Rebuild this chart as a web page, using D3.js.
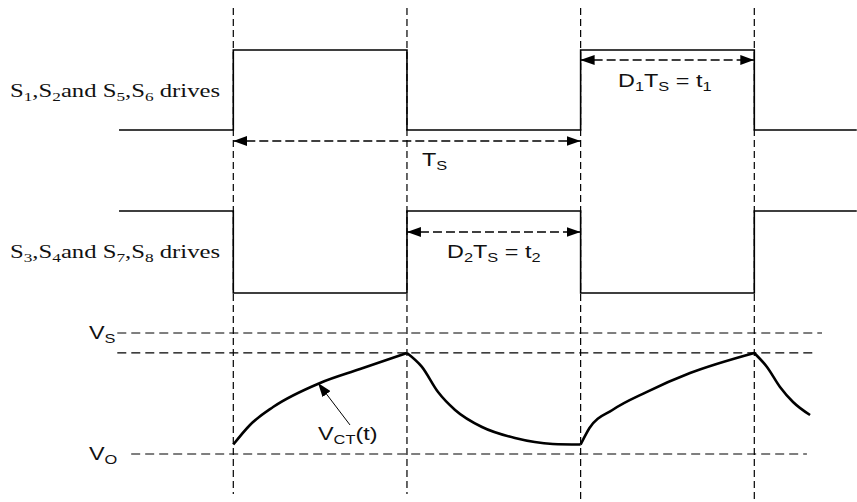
<!DOCTYPE html>
<html>
<head>
<meta charset="utf-8">
<script src="https://cdn.jsdelivr.net/npm/d3@7"></script>
<style>
  body { margin: 0; background: #fff; }
  svg { display: block; }
</style>
</head>
<body>
<div id="chart"></div>
<script>
// Time is in switching periods: edges at t = 0, 1, 2, 3.
var edgeTimes = [0, 1, 2, 3];
var driveTimes = [-0.658, 0, 1, 2, 3, 3.59];
var drive1Levels = [0, 1, 0, 1, 0, 0];   // S1,S2 and S5,S6
var drive2Levels = [1, 0, 1, 0, 1, 1];   // S3,S4 and S7,S8

// Capacitor voltage V_CT(t), normalised: 0 = V_O, 1 = V_S.
var rise1T = [0, 0.096, 0.229, 0.5, 0.73, 1.0];
var rise1V = [0.078, 0.24, 0.388, 0.587, 0.702, 0.835];
var fall1T = [1.0, 1.085, 1.179, 1.277, 1.432, 1.622, 1.84, 2.0];
var fall1V = [0.835, 0.722, 0.512, 0.364, 0.223, 0.132, 0.083, 0.078];
var rise2T = [2.0, 2.051, 2.183, 2.379, 2.63, 3.0];
var rise2V = [0.078, 0.215, 0.364, 0.512, 0.669, 0.835];
var fall2T = [3.0, 3.073, 3.148, 3.223, 3.321];
var fall2V = [0.835, 0.719, 0.554, 0.43, 0.322];

var peakLevel = 0.835;

var W = 857, H = 502;

var svg = d3.select('#chart').append('svg')
    .attr('width', W)
    .attr('height', H);

var x = d3.scaleLinear().domain([0, 3]).range([233.3, 754.3]);
var yDrive1 = d3.scaleLinear().domain([0, 1]).range([130, 50]);
var yDrive2 = d3.scaleLinear().domain([0, 1]).range([293, 211]);
var yV = d3.scaleLinear().domain([0, 1]).range([454, 333]);

// arrowhead marker
var defs = svg.append('defs');
defs.append('marker')
    .attr('id', 'head')
    .attr('markerUnits', 'userSpaceOnUse')
    .attr('viewBox', '0 0 14 10')
    .attr('refX', 14).attr('refY', 5)
    .attr('markerWidth', 14).attr('markerHeight', 10)
    .attr('orient', 'auto-start-reverse')
  .append('path')
    .attr('d', 'M0,0L14,5L0,10Z')
    .attr('fill', '#000');

// vertical dashed edge markers
svg.selectAll('.edge').data(edgeTimes)
  .enter().append('line')
    .attr('class', 'edge')
    .attr('x1', function(t) { return x(t); })
    .attr('x2', function(t) { return x(t); })
    .attr('y1', 8)
    .attr('y2', function(t, i) { return i < 2 ? 494 : 499; })
    .attr('stroke', '#000')
    .attr('stroke-width', 1.2)
    .attr('stroke-dasharray', '7,4');

// drive waveforms
var stepLine = function(yScale) {
  return d3.line()
      .x(function(d) { return x(d[0]); })
      .y(function(d) { return yScale(d[1]); })
      .curve(d3.curveStepAfter);
};
var drives = [
  { levels: drive1Levels, y: yDrive1 },
  { levels: drive2Levels, y: yDrive2 }
];
drives.forEach(function(dr) {
  var pts = driveTimes.map(function(t, i) { return [t, dr.levels[i]]; });
  svg.append('path')
      .attr('d', stepLine(dr.y)(pts))
      .attr('fill', 'none')
      .attr('stroke', '#000')
      .attr('stroke-width', 1.6);
});

// dimension arrows
var dims = [
  { t0: 0, t1: 2, y: 141 },
  { t0: 2, t1: 3, y: 60 },
  { t0: 1, t1: 2, y: 232 }
];
svg.selectAll('.dim').data(dims)
  .enter().append('line')
    .attr('class', 'dim')
    .attr('x1', function(d) { return x(d.t0); })
    .attr('x2', function(d) { return x(d.t1); })
    .attr('y1', function(d) { return d.y; })
    .attr('y2', function(d) { return d.y; })
    .attr('stroke', '#000')
    .attr('stroke-width', 1.3)
    .attr('stroke-dasharray', '9,4')
    .attr('marker-start', 'url(#head)')
    .attr('marker-end', 'url(#head)');

// voltage reference levels
var refLines = [
  { v: 1, t0: -0.668, t1: 3.39 },
  { v: peakLevel, t0: -0.668, t1: 3.338 },
  { v: 0, t0: -0.588, t1: 3.303 }
];
svg.selectAll('.ref').data(refLines)
  .enter().append('line')
    .attr('class', 'ref')
    .attr('x1', function(d) { return x(d.t0); })
    .attr('x2', function(d) { return x(d.t1); })
    .attr('y1', function(d) { return yV(d.v); })
    .attr('y2', function(d) { return yV(d.v); })
    .attr('stroke', '#000')
    .attr('stroke-width', 1.2)
    .attr('stroke-dasharray', '9,5');

// V_CT(t) curve, one path per piece so the peaks stay sharp
var vLine = d3.line()
    .x(function(d) { return x(d[0]); })
    .y(function(d) { return yV(d[1]); })
    .curve(d3.curveMonotoneX);
[[rise1T, rise1V], [fall1T, fall1V], [rise2T, rise2V], [fall2T, fall2V]]
  .forEach(function(seg) {
    var pts = seg[0].map(function(t, i) { return [t, seg[1][i]]; });
    svg.append('path')
        .attr('d', vLine(pts))
        .attr('fill', 'none')
        .attr('stroke', '#000')
        .attr('stroke-width', 2.6)
        .attr('stroke-linejoin', 'round');
  });

// pointer to the curve
svg.append('line')
    .attr('x1', x(0.672)).attr('y1', yV(0.24))
    .attr('x2', x(0.488)).attr('y2', yV(0.587))
    .attr('stroke', '#000')
    .attr('stroke-width', 1)
    .attr('marker-end', 'url(#head)');

// Labels. The source figure is stretched horizontally, hence scale(1.3,1).
var SANS = 'Liberation Sans, Arial, sans-serif';
var SERIF = 'Liberation Serif, Times New Roman, serif';

function label(px, py, parts, font, size) {
  var t = svg.append('text')
      .attr('transform', 'translate(' + px + ',' + py + ') scale(1.3,1)')
      .attr('font-family', font)
      .attr('font-size', size)
      .attr('fill', '#111');
  var shifted = 0;
  parts.forEach(function(p) {
    var sub = p[1];
    var dy = (sub ? 4 : 0) - shifted;
    shifted = sub ? 4 : 0;
    t.append('tspan')
        .attr('dy', dy)
        .attr('font-size', sub ? size * 0.7 : size)
        .text(p[0]);
  });
}

label(10, 97, [['S'], ['1', 1], [',S'], ['2', 1], ['and S'], ['5', 1], [',S'], ['6', 1], [' drives']], SERIF, 19);
label(10, 258, [['S'], ['3', 1], [',S'], ['4', 1], ['and S'], ['7', 1], [',S'], ['8', 1], [' drives']], SERIF, 19);
label(422, 166, [['T'], ['S', 1]], SANS, 18);
label(618, 87, [['D'], ['1', 1], ['T'], ['S', 1], [' = t'], ['1', 1]], SANS, 18);
label(447, 258, [['D'], ['2', 1], ['T'], ['S', 1], [' = t'], ['2', 1]], SANS, 18);
label(89, 339, [['V'], ['S', 1]], SANS, 18);
label(89, 460, [['V'], ['O', 1]], SANS, 18);
label(318, 440, [['V'], ['CT', 1], ['(t)']], SANS, 18);
</script>
</body>
</html>
